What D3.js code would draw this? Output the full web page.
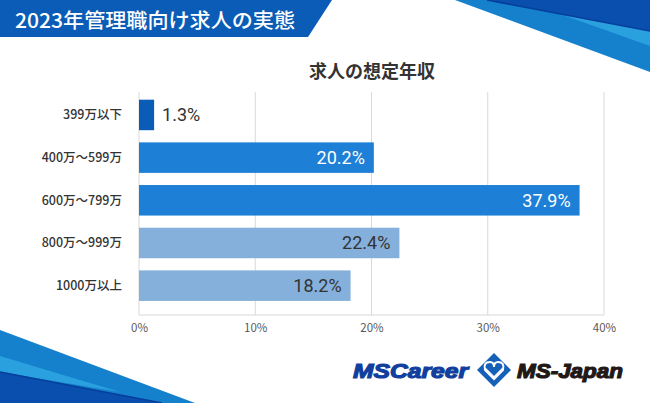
<!DOCTYPE html>
<html><head><meta charset="utf-8">
<script src="https://cdn.jsdelivr.net/npm/d3@7"></script>
<style>
html,body{margin:0;padding:0;background:#fff;}
svg{display:block;}
</style></head>
<body>
<script>
const categories = ["399万以下","400万～599万","600万～799万","800万～999万","1000万以上"];
const values = [1.3, 20.2, 37.9, 22.4, 18.2];
const tickValues = [0, 10, 20, 30, 40];
const tickLabels = ["0%", "10%", "20%", "30%", "40%"];
const headerTitle = "2023年管理職向け求人の実態";
const chartTitle = "求人の想定年収";

const W = 650, H = 403;
const svg = d3.select("body").append("svg").attr("width", W).attr("height", H);
const jp = "'Noto Sans CJK JP','Noto Sans',sans-serif";

// decorations top-right
const deco = svg.append("g");
deco.append("polygon").attr("points","455,0 650,0 650,72").attr("fill","#1580cc");
deco.append("polygon").attr("points","487,0 650,0 650,31").attr("fill","#0a4eae");
deco.append("polygon").attr("points","560,14 650,31 650,46").attr("fill","#2aa0de");
deco.append("line").attr("x1",487).attr("y1",0).attr("x2",650).attr("y2",31).attr("stroke","#053f9c").attr("stroke-width",1.5);
// bottom-left
deco.append("polygon").attr("points","0,330 195,403 0,403").attr("fill","#1580cc");
deco.append("polygon").attr("points","0,356 120,392 0,372").attr("fill","#2aa0de");
deco.append("polygon").attr("points","0,372 162,403 0,403").attr("fill","#0a4eae");
deco.append("line").attr("x1",0).attr("y1",372).attr("x2",162).attr("y2",403).attr("stroke","#053f9c").attr("stroke-width",1.5);

// header banner
svg.append("polygon").attr("points","0,0 332,0 308,37 0,37").attr("fill","#0b5cb6");
svg.append("text").attr("x",15).attr("y",28).attr("fill","#fff")
  .attr("font-family",jp).attr("font-size",20).attr("font-weight",500)
  .attr("textLength", 280).attr("lengthAdjust", "spacingAndGlyphs")
  .text(headerTitle);

// chart title
svg.append("text").attr("x",372).attr("y",78).attr("text-anchor","middle")
  .attr("fill","#333").attr("font-family",jp).attr("font-size",18).attr("font-weight",700)
  .text(chartTitle);

const x = d3.scaleLinear().domain([0, 40]).range([139, 604]);
const y = d3.scaleBand().domain(categories).range([93.6, 307]).paddingInner(0.285).paddingOuter(0.1425);
const color = d3.scaleOrdinal(categories, ["#0b5cb6","#1e7fd6","#1e7fd6","#85b0db","#85b0db"]);
const labelColor = d3.scaleOrdinal(categories, ["#333","#fff","#fff","#333","#333"]);

// grid
const gridTop = 92, gridBottom = 315;
svg.append("g").selectAll("line").data(tickValues).join("line")
  .attr("x1", d => x(d)).attr("x2", d => x(d))
  .attr("y1", gridTop).attr("y2", gridBottom)
  .attr("stroke", "#d9d9d9").attr("stroke-width", 1);
svg.append("line").attr("x1", x(0)).attr("x2", x(40)).attr("y1", gridBottom).attr("y2", gridBottom)
  .attr("stroke", "#d9d9d9");

// x axis labels
const xAxis = d3.axisBottom(x).tickValues(tickValues).tickSize(0).tickPadding(0)
  .tickFormat((d, i) => tickLabels[i]);
const gx = svg.append("g").attr("transform", `translate(0,${gridBottom})`).call(xAxis);
gx.select(".domain").remove();
gx.selectAll("text").attr("y", 17).attr("dy", 0).attr("fill", "#595959")
  .attr("font-family", jp).attr("font-size", 11.5);

// y axis labels
const yAxis = d3.axisLeft(y).tickSize(0).tickPadding(0);
const gy = svg.append("g").attr("transform", "translate(122,0)").call(yAxis);
gy.select(".domain").remove();
gy.selectAll("text").attr("fill", "#333").attr("font-family", jp).attr("font-size", 12.5)
  .attr("font-weight", 500).attr("dy", "0.35em");

// bars
const rows = categories.map((c, i) => ({c, v: values[i]}));
svg.append("g").selectAll("rect").data(rows).join("rect")
  .attr("x", x(0)).attr("y", d => y(d.c))
  .attr("width", d => x(d.v) - x(0)).attr("height", y.bandwidth())
  .attr("fill", d => color(d.c));

// value labels
svg.append("g").selectAll("text").data(rows).join("text")
  .attr("x", d => d.v < 5 ? x(d.v) + 8 : x(d.v) - 9)
  .attr("y", d => y(d.c) + y.bandwidth() / 2)
  .attr("dy", "0.36em")
  .attr("text-anchor", d => d.v < 5 ? "start" : "end")
  .attr("fill", d => labelColor(d.c))
  .attr("font-family", "Roboto, 'Noto Sans', sans-serif")
  .attr("font-size", 18).attr("font-weight", 400)
  .text(d => d.v.toFixed(1) + "%");

// logo
const logo = svg.append("g");
logo.append("text").attr("x", 353).attr("y", 378)
  .attr("font-family", "'Liberation Sans', Arial, sans-serif").attr("font-weight", 700)
  .attr("font-style", "italic").attr("font-size", 21).attr("fill", "#123f9e")
  .attr("stroke", "#123f9e").attr("stroke-width", 1.2)
  .attr("textLength", 115).attr("lengthAdjust", "spacingAndGlyphs")
  .text("MSCareer");
const dg = logo.append("g").attr("transform", "translate(494,370)");
dg.append("path").attr("d", "M0,-17 L17,0 L0,17 L-17,0 Z").attr("fill", "#1561b8");
dg.append("path").attr("d", "M0,9 L-9,0 Q-11,-8 -4,-8 Q0,-8 0,-3 Q0,-8 4,-8 Q11,-8 9,0 Z")
  .attr("fill", "none").attr("stroke", "#fff").attr("stroke-width", 2);
dg.append("path").attr("d", "M-9,-2 L0,7 L9,-2").attr("fill", "none").attr("stroke", "#fff").attr("stroke-width", 1.5);
logo.append("text").attr("x", 517).attr("y", 378)
  .attr("font-family", "'Liberation Sans', Arial, sans-serif").attr("font-weight", 700)
  .attr("font-style", "italic").attr("font-size", 21).attr("fill", "#231815")
  .attr("stroke", "#231815").attr("stroke-width", 1.2)
  .attr("textLength", 106).attr("lengthAdjust", "spacingAndGlyphs")
  .text("MS-Japan");
</script>
</body></html>
